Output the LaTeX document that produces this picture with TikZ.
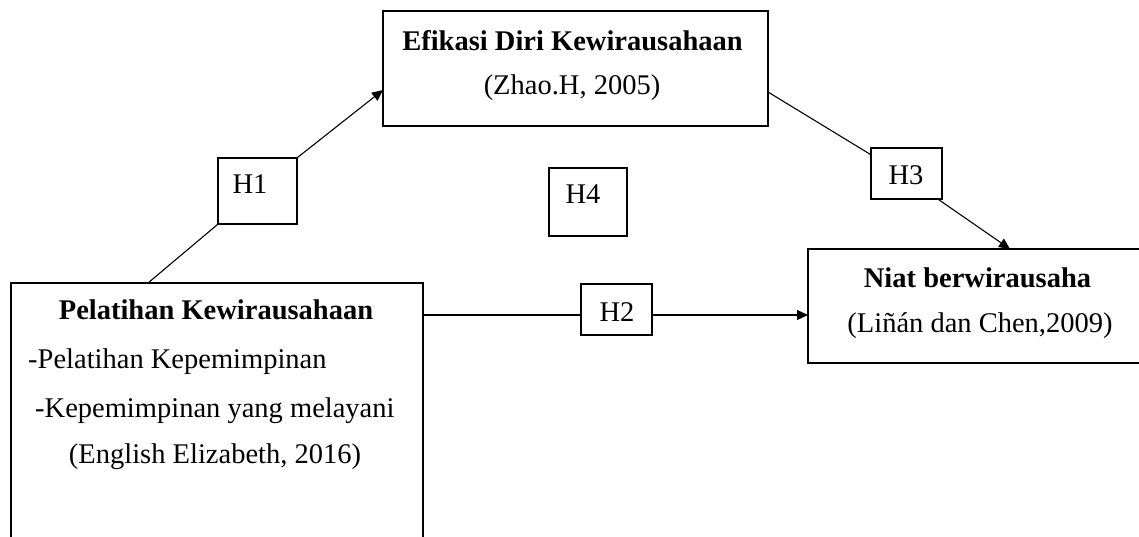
\documentclass[tikz,border=0pt]{standalone}
\usepackage{fontspec}
\setmainfont{Liberation Serif}
\usetikzlibrary{arrows.meta}
\begin{document}
\begin{tikzpicture}[x=1pt,y=-1pt,
  box/.style={draw=black,line width=1.1pt,rectangle,inner sep=0pt,fill=none},
  txt/.style={inner sep=0pt,font=\fontsize{28.5}{34}\selectfont},
  btxt/.style={inner sep=0pt,font=\fontsize{28.5}{34}\selectfont\bfseries},
  conn/.style={draw=black,line width=1.1pt},
  arr/.style={conn,-{Triangle[length=11pt,width=10pt]}}]
\useasboundingbox (0,0) rectangle (1139,536);
\clip (0,0) rectangle (1139,536);
% boxes
\node[box,minimum width=385pt,minimum height=115pt] (top) at (575.5,68.5) {};
\node[box,minimum width=412pt,minimum height=300pt] (left) at (217,433) {};
\node[box,minimum width=360pt,minimum height=114pt] (right) at (988,306) {};
\node[box,minimum width=79pt,minimum height=66pt] (h1) at (257.5,191) {};
\node[box,minimum width=78pt,minimum height=68pt] (h4) at (588,202) {};
\node[box,minimum width=71pt,minimum height=51pt] (h3) at (906.5,173.5) {};
\node[box,minimum width=71pt,minimum height=51pt] (h2) at (616.5,309.5) {};
% texts
\node[btxt,anchor=base] (t1) at (572.5,50) {Efikasi Diri Kewirausahaan};
\node[txt,anchor=base] (t2) at (572,94) {(Zhao.H, 2005)};
\node[btxt,anchor=base] (l1) at (216,319) {Pelatihan Kewirausahaan};
\node[txt,anchor=base west] (l2) at (28,368) {-Pelatihan Kepemimpinan};
\node[txt,anchor=base west] (l3) at (35,417) {-Kepemimpinan yang melayani};
\node[txt,anchor=base] (l4) at (215,463) {(English Elizabeth, 2016)};
\node[btxt,anchor=base] (r1) at (977.5,287) {Niat berwirausaha};
\node[txt,anchor=base] (r2) at (980,332) {(Liñán dan Chen,2009)};
\node[txt,anchor=base] (lh1) at (250,193) {H1};
\node[txt,anchor=base] (lh4) at (583,203) {H4};
\node[txt,anchor=base] (lh3) at (906,184) {H3};
\node[txt,anchor=base] (lh2) at (617,321) {H2};
% connector end points
\coordinate (lefttop) at (148,283);
\coordinate (topin) at (383,90);
\coordinate (topout) at (768,92);
\coordinate (rightin) at (1010,249);
\coordinate (leftout) at (423,315);
\coordinate (h2in) at (581,315);
\coordinate (h2out) at (652,315);
\coordinate (rightwest) at (808,315);
% connectors
\draw[conn] (lefttop) -- (h1.south west);
\draw[arr] (h1.north east) -- (topin);
\draw[conn] (topout) -- ([yshift=-7pt]h3.north west);
\draw[arr] ([xshift=-4pt]h3.south east) -- (rightin);
\draw[conn] (leftout) -- (h2in);
\draw[arr] (h2out) -- (rightwest);
\end{tikzpicture}
\end{document}
